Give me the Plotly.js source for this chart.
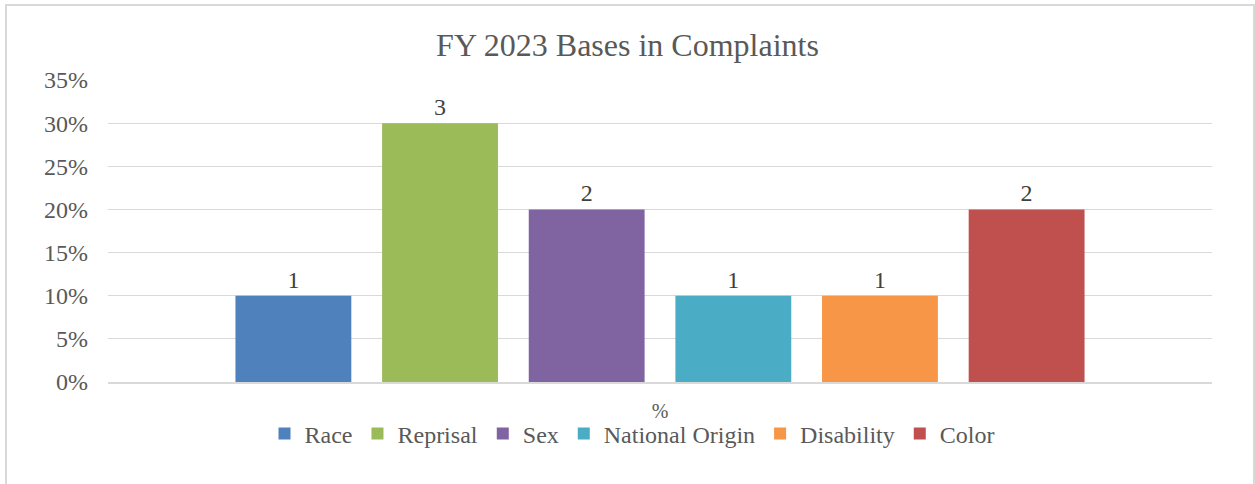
<!DOCTYPE html>
<html>
<head>
<meta charset="utf-8">
<script src="https://cdn.plot.ly/plotly-3.0.1.min.js"></script>
<style>
body{margin:0;padding:0;background:#fff;}
#wrap{position:relative;width:1255px;height:484px;}
#chart{width:1255px;height:484px;}
#frame{position:absolute;left:5px;top:4px;width:1246px;height:500px;border:2px solid #d9d9d9;pointer-events:none;}
</style>
</head>
<body>
<div id="wrap"><div id="chart"></div><div id="frame"></div></div>
<script>
const categories = ["%"];
const seriesNames = ["Race", "Reprisal", "Sex", "National Origin", "Disability", "Color"];
const percentValues = [0.10, 0.30, 0.20, 0.10, 0.10, 0.20];
const countLabels = [1, 3, 2, 1, 1, 2];
const colors = ["#4F81BD", "#9BBB59", "#8064A2", "#4BACC6", "#F79646", "#C0504D"];
const yTicks = [0, 0.05, 0.10, 0.15, 0.20, 0.25, 0.30, 0.35];

const font = "Liberation Serif, Times New Roman, serif";
const traces = seriesNames.map((name, i) => ({
  type: "bar",
  name: name,
  x: categories,
  y: [percentValues[i]],
  text: [String(countLabels[i])],
  textposition: "outside",
  textfont: {family: font, size: 24, color: "#404040"},
  cliponaxis: false,
  marker: {color: colors[i]},
  hoverinfo: "none"
}));

const layout = {
  width: 1255, height: 484,
  margin: {l: 108, r: 43, t: 80, b: 102},
  paper_bgcolor: "#fff", plot_bgcolor: "#fff",
  font: {family: font, color: "#595959"},
  title: {text: "FY 2023 Bases in Complaints", font: {family: font, size: 32, color: "#595959"}, x: 0.5, xanchor: "center", y: 1 - 45/484, yanchor: "middle", yref: "container"},
  barmode: "group",
  bargap: 0.203,
  bargroupgap: 0.21,
  xaxis: {
    type: "category",
    showgrid: false,
    showline: true, linecolor: "#d9d9d9", linewidth: 2,
    ticks: "",
    tickfont: {family: font, size: 20, color: "#595959"},
    ticklabelstandoff: 10
  },
  yaxis: {
    range: [0, 0.35],
    tickvals: yTicks,
    tickformat: ".0%",
    showgrid: true, gridcolor: "#d9d9d9", gridwidth: 1,
    zeroline: false,
    ticks: "",
    tickfont: {family: font, size: 24, color: "#595959"},
    ticklabelstandoff: 19
  },
  showlegend: true,
  legend: {
    orientation: "h",
    x: 0.5 - 28/1104, xanchor: "center",
    y: (382 - 434) / 302, yanchor: "middle",
    bgcolor: "rgba(0,0,0,0)",
    font: {family: font, size: 24, color: "#595959"},
    itemwidth: 30,
    itemclick: false, itemdoubleclick: false,
    tracegroupgap: 0
  }
};

Plotly.newPlot("chart", traces, layout, {displayModeBar: false, staticPlot: true});
</script>
</body>
</html>
